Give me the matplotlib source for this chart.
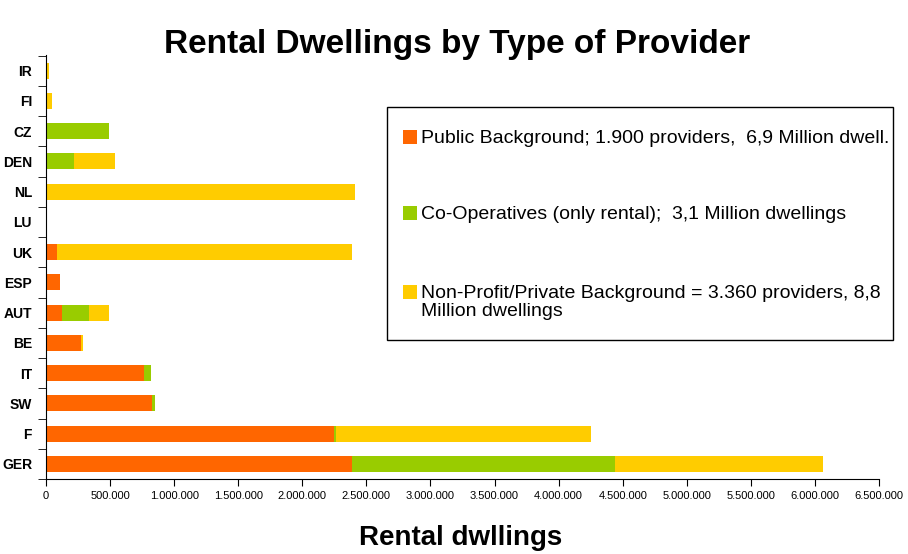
import matplotlib.pyplot as plt
import numpy as np
from matplotlib.ticker import FuncFormatter
from matplotlib.patches import Rectangle

plt.rcParams['font.family'] = ['Liberation Sans', 'DejaVu Sans']

countries = ['GER', 'F', 'SW', 'IT', 'BE', 'AUT', 'ESP', 'UK', 'LU', 'NL', 'DEN', 'CZ', 'FI', 'IR']
public = [2390000, 2250000, 830000, 764000, 273000, 125000, 112000, 83000, 0, 0, 0, 0, 0, 0]
coop = [2050000, 15000, 23000, 56000, 0, 213000, 0, 0, 0, 0, 216000, 494000, 0, 0]
nonprofit = [1620000, 1985000, 0, 0, 18000, 156000, 0, 2307000, 0, 2410000, 322000, 0, 47000, 26000]

labels = ['Public Background; 1.900 providers,  6,9 Million dwell.',
          'Co-Operatives (only rental);  3,1 Million dwellings',
          'Non-Profit/Private Background = 3.360 providers, 8,8\nMillion dwellings']
colors = ['#FF6600', '#99CC00', '#FFCC00']

W, H = 908, 554
fig = plt.figure(figsize=(W/100, H/100), dpi=100)
ax = fig.add_axes([46/W, 1-479/H, (879-46)/W, (479-55)/H])

y = np.arange(len(countries))
left = np.zeros(len(countries))
for vals, c, lab in zip([public, coop, nonprofit], colors, labels):
    ax.barh(y, vals, left=left, height=0.53, color=c, label=lab)
    left = left + np.array(vals)

ax.set_xlim(0, 6500000)
ax.set_ylim(-0.48, 13.52)
ax.set_xticks(np.arange(0, 6500001, 500000))
ax.xaxis.set_major_formatter(FuncFormatter(lambda v, p: '0' if v == 0 else f'{int(v):,}'.replace(',', '.')))
ax.set_yticks(y)
ax.set_yticklabels(countries, fontweight='bold', fontsize=10)
ax.set_yticks(np.arange(-0.5, 14, 1), minor=True)
ax.tick_params(axis='y', which='major', length=0, pad=10)
ax.tick_params(axis='y', which='minor', length=6, direction='out')
ax.tick_params(axis='x', labelsize=8, length=5, direction='out')
ax.spines['top'].set_visible(False)
ax.spines['right'].set_visible(False)

fig.text(457/W, 1-45/H, 'Rental Dwellings by Type of Provider', ha='center', va='center',
         fontsize=24, fontweight='bold')
fig.text(461/W, 1-538/H, 'Rental dwllings', ha='center', va='center',
         fontsize=20, fontweight='bold')

# legend box drawn by hand
fig.add_artist(Rectangle((387/W, 1-340/H), (893-387)/W, (340-107)/H, transform=fig.transFigure,
                         facecolor='white', edgecolor='black', linewidth=1.0))
for lab, c, yc in zip(labels, colors, [137, 213, 292]):
    fig.add_artist(Rectangle((403/W, 1-(yc+7)/H), 14/W, 14/H, transform=fig.transFigure,
                             facecolor=c, edgecolor='none'))
    fig.text(421/W, 1-(yc-7)/H, lab, ha='left', va='top', fontsize=14, linespacing=1.05)

fig.savefig('out.png', dpi=100)
